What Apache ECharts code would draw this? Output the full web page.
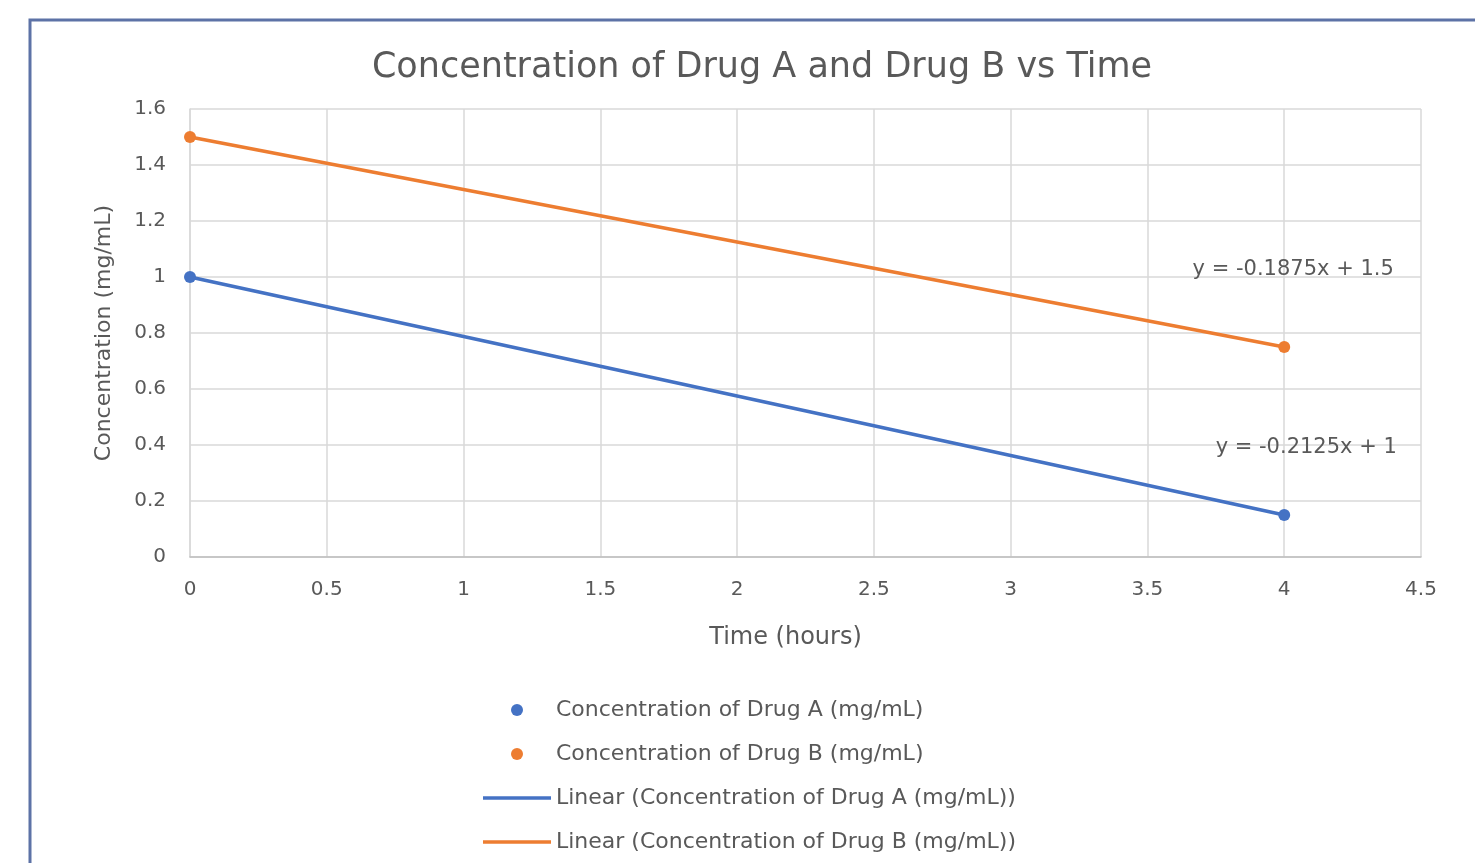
<!DOCTYPE html>
<html>
<head>
<meta charset="utf-8">
<script src="https://cdn.jsdelivr.net/npm/echarts@6/dist/echarts.min.js"></script>
<style>
  html, body { margin: 0; padding: 0; background: #ffffff; }
  #chart { width: 1475px; height: 863px; }
</style>
</head>
<body>
<div id="chart"></div>
<script>
// Measured concentrations (mg/mL) at each time point (hours)
const timeHours = [0, 4];
const drugA = [1.0, 0.15];
const drugB = [1.5, 0.75];

// Linear trendline coefficients: y = slope * x + intercept
const slopes = [-0.2125, -0.1875];
const intercepts = [1, 1.5];

const seriesNames = [
  'Concentration of Drug A (mg/mL)',
  'Concentration of Drug B (mg/mL)'
];
const trendNames = seriesNames.map(n => 'Linear (' + n + ')');

const xTicks = [0, 0.5, 1, 1.5, 2, 2.5, 3, 3.5, 4, 4.5];
const yTicks = [0, 0.2, 0.4, 0.6, 0.8, 1, 1.2, 1.4, 1.6];

const BLUE = '#4472c4';
const ORANGE = '#ed7d31';
const TEXT = '#595959';
const FONT = 'DejaVu Sans';
const LINE_ICON = 'path://M0,0 L68,0 L68,3.5 L0,3.5 Z';

function pairs(xs, ys) { return xs.map((x, i) => [x, ys[i]]); }
function trendPoints(k) {
  return timeHours.map(x => [x, +(slopes[k] * x + intercepts[k]).toFixed(6)]);
}
function eqText(k) {
  return 'y = ' + slopes[k] + 'x + ' + intercepts[k];
}
function eqLabel(k, offset) {
  return {
    show: true, formatter: eqText(k), offset: offset, distance: 0,
    align: 'center', verticalAlign: 'middle',
    fontFamily: FONT, fontSize: 21, color: TEXT
  };
}

const chart = echarts.init(document.getElementById('chart'), null, { renderer: 'canvas' });

chart.setOption({
  backgroundColor: '#ffffff',
  animation: false,
  title: {
    text: 'Concentration of Drug A and Drug B vs Time',
    left: 757, textAlign: 'center', top: 45,
    textStyle: { fontFamily: FONT, fontSize: 35, fontWeight: 'normal', color: TEXT }
  },
  graphic: [{
    type: 'rect', silent: true,
    shape: { x: 30, y: 20, width: 1500, height: 900 },
    style: { fill: 'none', stroke: '#5d72a6', lineWidth: 3 }
  }],
  grid: { left: 190, right: 54, top: 109, bottom: 306 },
  xAxis: {
    type: 'value', min: 0, max: 4.5, interval: 0.5,
    name: 'Time (hours)', nameLocation: 'middle', nameGap: 69,
    nameTextStyle: { fontFamily: FONT, fontSize: 24, color: TEXT, padding: [0, 40, 0, 0] },
    axisLine: { show: true, lineStyle: { color: '#bfbfbf', width: 1.5 } },
    axisTick: { show: false },
    splitLine: { show: true, lineStyle: { color: '#d9d9d9', width: 1.5 } },
    axisLabel: {
      margin: 23, fontFamily: FONT, fontSize: 20, color: TEXT,
      formatter: v => xTicks.includes(v) ? String(v) : ''
    }
  },
  yAxis: {
    type: 'value', min: 0, max: 1.6, interval: 0.2,
    name: 'Concentration (mg/mL)', nameLocation: 'middle', nameGap: 75,
    nameTextStyle: { fontFamily: FONT, fontSize: 22, color: TEXT },
    axisLine: { show: true, lineStyle: { color: '#d9d9d9', width: 1.5 } },
    axisTick: { show: false },
    splitLine: { show: true, lineStyle: { color: '#d9d9d9', width: 1.5 } },
    axisLabel: {
      margin: 24, fontFamily: FONT, fontSize: 20, color: TEXT,
      formatter: v => {
        const t = yTicks.find(y => Math.abs(y - v) < 1e-9);
        return t === undefined ? '' : String(t);
      }
    }
  },
  legend: {
    orient: 'vertical', left: 478, top: 694,
    itemWidth: 68, itemHeight: 12, itemGap: 22,
    symbolKeepAspect: true,
    textStyle: { fontFamily: FONT, fontSize: 22, color: TEXT, lineHeight: 20 },
    data: [
      { name: seriesNames[0], icon: 'circle' },
      { name: seriesNames[1], icon: 'circle' },
      { name: trendNames[0], icon: LINE_ICON },
      { name: trendNames[1], icon: LINE_ICON }
    ]
  },
  series: [
    {
      name: trendNames[0], type: 'line', data: trendPoints(0),
      symbol: 'none', lineStyle: { color: BLUE, width: 3.5 }, itemStyle: { color: BLUE },
      endLabel: eqLabel(0, [22, -67]),
      z: 2
    },
    {
      name: trendNames[1], type: 'line', data: trendPoints(1),
      symbol: 'none', lineStyle: { color: ORANGE, width: 3.5 }, itemStyle: { color: ORANGE },
      endLabel: eqLabel(1, [9, -77]),
      z: 2
    },
    {
      name: seriesNames[0], type: 'scatter', data: pairs(timeHours, drugA),
      symbol: 'circle', symbolSize: 12, itemStyle: { color: BLUE, opacity: 1 }, z: 3
    },
    {
      name: seriesNames[1], type: 'scatter', data: pairs(timeHours, drugB),
      symbol: 'circle', symbolSize: 12, itemStyle: { color: ORANGE, opacity: 1 }, z: 3
    }
  ]
});
</script>
</body>
</html>
